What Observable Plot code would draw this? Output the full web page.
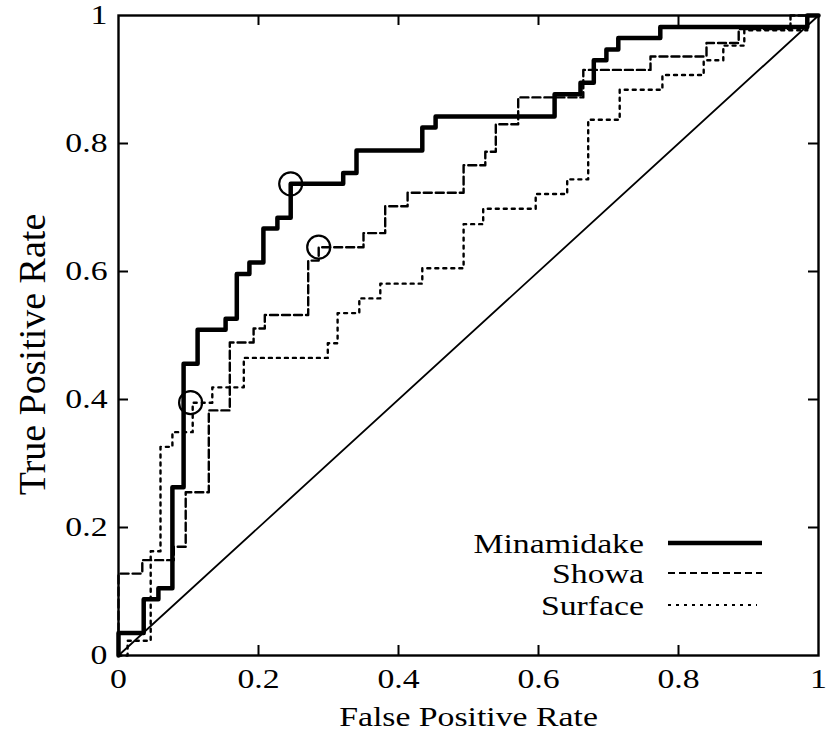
<!DOCTYPE html>
<html>
<head>
<meta charset="utf-8">
<script src="https://cdn.jsdelivr.net/npm/d3@7"></script>
<script src="https://cdn.jsdelivr.net/npm/@observablehq/plot@0.6"></script>
<style>
  html, body { margin: 0; padding: 0; background: #fff; }
  #wrap { position: relative; width: 827px; height: 731px; }
  #legend { position: absolute; left: 0; top: 0; pointer-events: none; }
</style>
</head>
<body>
<div id="wrap"></div>
<script>
// ---- Data ----
const minamidakeFPR = [0, 0, 0.036, 0.057, 0.077, 0.093, 0.113, 0.153, 0.169, 0.187, 0.207, 0.227, 0.246, 0.321, 0.340, 0.434, 0.453, 0.623, 0.660, 0.679, 0.697, 0.714, 0.774, 0.984, 1.0];
const minamidakeTPR = [0, 0.035, 0.088, 0.105, 0.263, 0.456, 0.509, 0.526, 0.596, 0.614, 0.667, 0.684, 0.737, 0.754, 0.789, 0.825, 0.842, 0.877, 0.895, 0.930, 0.947, 0.965, 0.982, 1.0, 1.0];

const showaFPR = [0, 0, 0.034, 0.079, 0.096, 0.129, 0.159, 0.193, 0.209, 0.271, 0.286, 0.350, 0.381, 0.413, 0.493, 0.524, 0.539, 0.571, 0.664, 0.760, 0.840, 0.886, 0.960, 1.0];
const showaTPR = [0, 0.128, 0.149, 0.170, 0.255, 0.383, 0.489, 0.511, 0.532, 0.617, 0.638, 0.660, 0.702, 0.723, 0.766, 0.787, 0.830, 0.872, 0.915, 0.936, 0.957, 0.979, 1.0, 1.0];

const surfaceFPR = [0, 0.013, 0.046, 0.060, 0.077, 0.106, 0.134, 0.179, 0.299, 0.313, 0.344, 0.374, 0.434, 0.493, 0.521, 0.596, 0.641, 0.671, 0.716, 0.777, 0.836, 0.864, 0.894, 0.984, 1.0];
const surfaceTPR = [0, 0.023, 0.163, 0.326, 0.349, 0.395, 0.419, 0.465, 0.488, 0.535, 0.558, 0.581, 0.605, 0.674, 0.698, 0.721, 0.744, 0.837, 0.884, 0.907, 0.930, 0.953, 0.977, 1.0, 1.0];

const diagonalX = [0, 1];
const diagonalY = [0, 1];

// Circled operating points
const markerSeries = ["Minamidake", "Showa", "Surface"];
const markerFPR = [0.246, 0.286, 0.103];
const markerTPR = [0.737, 0.638, 0.395];

const xTicks = [0, 0.2, 0.4, 0.6, 0.8, 1];
const xTickLabels = ["0", "0.2", "0.4", "0.6", "0.8", "1"];
const yTicks = [0, 0.2, 0.4, 0.6, 0.8, 1];
const yTickLabels = ["0", "0.2", "0.4", "0.6", "0.8", "1"];
const innerTicks = [0.2, 0.4, 0.6, 0.8];

const xLabel = "False Positive Rate";
const yLabel = "True Positive Rate";
const seriesNames = ["Minamidake", "Showa", "Surface"];

// ---- Build tables ----
const toRows = (xs, ys) => xs.map((x, i) => ({x, y: ys[i]}));
const minamidake = toRows(minamidakeFPR, minamidakeTPR);
const showa = toRows(showaFPR, showaTPR);
const surface = toRows(surfaceFPR, surfaceTPR);
const diagonal = toRows(diagonalX, diagonalY);
const markers = markerSeries.map((s, i) => ({series: s, x: markerFPR[i], y: markerTPR[i]}));

const FONT = "'Liberation Serif', 'Times New Roman', serif";

const chart = Plot.plot({
  width: 827,
  height: 731,
  marginLeft: 118,
  marginRight: 9,
  marginTop: 15,
  marginBottom: 76,
  style: {fontFamily: FONT, background: "#fff", color: "#000"},
  x: {domain: [0, 1]},
  y: {domain: [0, 1]},
  marks: [
    Plot.line(diagonal, {x: "x", y: "y", stroke: "#000", strokeWidth: 1.8}),
    Plot.line(surface, {x: "x", y: "y", curve: "step-after", stroke: "#000", strokeWidth: 2.4, strokeDasharray: "3,5"}),
    Plot.line(showa, {x: "x", y: "y", curve: "step-after", stroke: "#000", strokeWidth: 2.4, strokeDasharray: "8,4"}),
    Plot.line(minamidake, {x: "x", y: "y", curve: "step-after", stroke: "#000", strokeWidth: 4.5}),
    Plot.dot(markers, {x: "x", y: "y", r: 11.5, stroke: "#000", strokeWidth: 2.2, fill: "none"}),
    // inward ticks on all four sides
    Plot.tickX(innerTicks, {x: d => d, insetTop: 630, stroke: "#000", strokeWidth: 2}),
    Plot.tickX(innerTicks, {x: d => d, insetBottom: 630, stroke: "#000", strokeWidth: 2}),
    Plot.tickY(innerTicks, {y: d => d, insetRight: 690, stroke: "#000", strokeWidth: 2}),
    Plot.tickY(innerTicks, {y: d => d, insetLeft: 690, stroke: "#000", strokeWidth: 2}),
    Plot.frame({stroke: "#000", strokeWidth: 2.4}),
    Plot.axisX(xTicks, {anchor: "bottom", tickSize: 0, tickPadding: 13, fontSize: 27, tickFormat: (d, i) => xTickLabels[i], label: null}),
    Plot.axisY(yTicks, {anchor: "left", tickSize: 0, tickPadding: 11, fontSize: 27, tickFormat: (d, i) => yTickLabels[i], label: null}),
    Plot.text([xLabel], {frameAnchor: "bottom", dy: 70, lineAnchor: "bottom", textAnchor: "middle", fontSize: 27, text: d => d}),
    Plot.text([yLabel], {frameAnchor: "left", rotate: -90, dx: -74, dy: 19, lineAnchor: "bottom", textAnchor: "middle", fontSize: 38, text: d => d})
  ]
});

const wrap = document.getElementById("wrap");
wrap.append(chart);

// Legend overlay (drawn with d3)
const legend = d3.select(wrap).append("svg")
  .attr("id", "legend")
  .attr("width", 827).attr("height", 731);
const legendStyles = [
  {width: 4.5, dash: null},
  {width: 2.2, dash: "7,4"},
  {width: 2.2, dash: "3,5"}
];
const legendRows = [553, 583, 615];
seriesNames.forEach((name, i) => {
  legend.append("text")
    .attr("x", 644).attr("y", legendRows[i])
    .attr("text-anchor", "end")
    .attr("font-family", FONT).attr("font-size", 27)
    .text(name);
  legend.append("line")
    .attr("x1", 668).attr("x2", i === 2 ? 757 : 762)
    .attr("y1", legendRows[i] - 10).attr("y2", legendRows[i] - 10)
    .attr("stroke", "#000").attr("stroke-width", legendStyles[i].width)
    .attr("stroke-dasharray", legendStyles[i].dash);
});

// The reference glyphs are horizontally stretched; widen horizontal texts.
document.querySelectorAll("#wrap text").forEach(t => {
  if (t.textContent === yLabel) return;
  const L = t.getComputedTextLength();
  if (L > 0) {
    t.setAttribute("textLength", (L * 1.25).toFixed(1));
    t.setAttribute("lengthAdjust", "spacingAndGlyphs");
  }
});
</script>
</body>
</html>
